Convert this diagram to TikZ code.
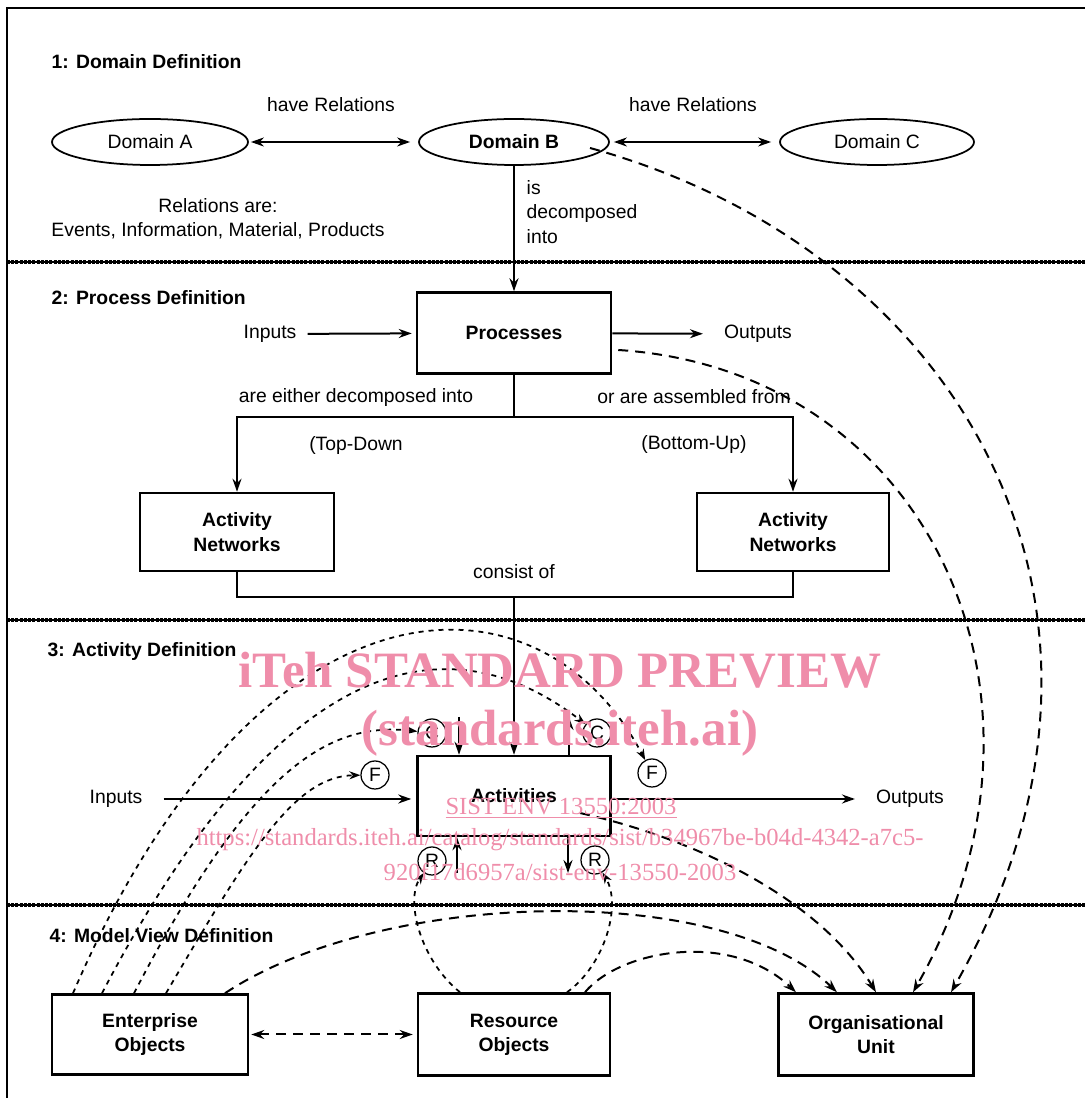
\documentclass[tikz,border=0pt]{standalone}
\usepackage{fontspec}
\setmainfont{Liberation Sans}
\newfontfamily\wmfont{Liberation Serif}
\usepackage{xcolor}
\usepackage{tikz}
\usetikzlibrary{arrows.meta}
\usetikzlibrary{shapes.geometric}
\definecolor{wmpink}{RGB}{239,141,170}

\begin{document}
\begin{tikzpicture}[
    font=\fontsize{11}{13.8}\selectfont,
    box/.style={draw, line width=0.05cm, minimum width=3.88cm, minimum height=1.6cm, align=center, font=\fontsize{11}{13.8}\selectfont\bfseries},
    domnode/.style={draw, ellipse, line width=0.035cm, minimum width=3.88cm, minimum height=0.92cm},
    icom/.style={draw, circle, line width=0.025cm, minimum size=0.56cm, inner sep=0pt},
    head/.style={anchor=west, font=\fontsize{11}{13.8}\selectfont\bfseries},
    arr/.style={line width=0.04cm, -{Stealth[length=0.26cm, width=0.18cm]}},
    twoarr/.style={line width=0.04cm, {Stealth[length=0.26cm, width=0.18cm]}-{Stealth[length=0.26cm, width=0.18cm]}},
    dasharr/.style={line width=0.04cm, dash pattern=on 0.2cm off 0.14cm, -{Stealth[length=0.26cm, width=0.18cm]}},
    twodash/.style={line width=0.04cm, dash pattern=on 0.2cm off 0.14cm, {Stealth[length=0.26cm, width=0.18cm]}-{Stealth[length=0.26cm, width=0.18cm]}},
    dotarr/.style={line width=0.035cm, dash pattern=on 0.1cm off 0.1cm, -{Stealth[length=0.22cm, width=0.16cm]}},
    sepline/.style={line width=0.08cm, dash pattern=on 0.06cm off 0.025cm},
    sepbase/.style={line width=0.025cm},
    wm/.style={text=wmpink, inner sep=0pt},
]
            \useasboundingbox (0,0) rectangle (21.700000,21.960000);

            % Frame and section separators
            \draw [line width=0.04cm] (0.140000,0.000000) -- (0.140000,21.800000) -- (21.700000,21.800000);%
            \foreach \ysep in {16.720000, 9.560000, 3.860000} {
                \draw [sepbase] (0.140000,\ysep) -- (21.700000,\ysep);%
                \draw [sepline] (0.140000,\ysep) -- (21.700000,\ysep);%
            }

            % Section 1: domains
            \node [head] (hDomain) at (0.910000,20.720000) {1: Domain Definition};%
            \node [domnode, minimum width=3.92cm] (domA) at (3.000000,19.120000) {Domain A};%
            \node [domnode, minimum width=3.80cm, font=\fontsize{11}{13.8}\selectfont\bfseries] (domB) at (10.280000,19.120000) {Domain B};%
            \node [domnode] (domC) at (17.540000,19.120000) {Domain C};%
            \node (relAB) at (6.620000,19.860000) {have Relations};%
            \node (relBC) at (13.860000,19.860000) {have Relations};%
            \node [align=center] (relList) at (4.360000,17.580000) {Relations are:\\Events, Information, Material, Products};%
            \node [anchor=west, align=left] (decomp) at (10.410000,17.720000) {is\\decomposed\\into};%

            % Section 2: processes
            \node [head] (hProcess) at (0.910000,16.000000) {2: Process Definition};%
            \node [box, minimum height=1.62cm] (proc) at (10.280000,15.300000) {Processes};%
            \node (inP) at (5.400000,15.280000) {Inputs};%
            \node (outP) at (15.160000,15.280000) {Outputs};%
            \node (either) at (7.120000,14.000000) {are either decomposed into};%
            \node (orAsm) at (13.880000,14.020000) {or are assembled from};%
            \node (topDown) at (7.120000,13.040000) {(Top-Down};%
            \node (bottomUp) at (13.880000,13.060000) {(Bottom-Up)};%
            \node [box, minimum height=1.56cm] (netL) at (4.740000,11.320000) {Activity\\Networks};%
            \node [box, minimum width=3.84cm, minimum height=1.56cm] (netR) at (15.860000,11.320000) {Activity\\Networks};%
            \node (consist) at (10.280000,10.520000) {consist of};%
            \coordinate (split) at (10.280000,13.620000);%
            \coordinate (join) at (10.280000,10.020000);%

            % Section 3: activities
            \node [head] (hActivity) at (0.830000,8.920000) {3: Activity Definition};%
            \node [box, minimum width=3.86cm] (act) at (10.280000,6.040000) {Activities};%
            \node (inA) at (2.320000,5.980000) {Inputs};%
            \node (outA) at (18.200000,5.980000) {Outputs};%
            \node [icom] (c1) at (8.640000,7.300000) {C};%
            \node [icom] (c2) at (11.940000,7.300000) {C};%
            \node [icom] (f1) at (7.500000,6.460000) {F};%
            \node [icom] (f2) at (13.040000,6.500000) {F};%
            \node [icom] (r1) at (8.640000,4.740000) {R};%
            \node [icom] (r2) at (11.900000,4.760000) {R};%
            \coordinate (ctlIn) at (9.180000,7.620000);%
            \coordinate (ctlOut) at (11.380000,7.620000);%
            \coordinate (resIn) at (9.140000,4.500000);%
            \coordinate (resOut) at (11.360000,4.500000);%

            % Section 4: model views
            \node [head] (hModel) at (0.870000,3.240000) {4: Model View Definition};%
            \node [box, minimum width=3.92cm] (ent) at (3.000000,1.270000) {Enterprise\\Objects};%
            \node [box, minimum width=3.84cm, minimum height=1.64cm] (res) at (10.280000,1.270000) {Resource\\Objects};%
            \node [box, minimum width=3.90cm, minimum height=1.64cm] (org) at (17.520000,1.270000) {Organisational\\Unit};%

            % Drawing solid connectors
            \draw [twoarr, shorten <=0.04cm, shorten >=0.16cm] (domA) -- (domB);%
            \draw [twoarr, shorten <=0.08cm, shorten >=0.16cm] (domB) -- (domC);%
            \draw [arr] (domB) -- (proc);%
            \draw [arr, shorten <=0.1cm, shorten >=0.08cm] (inP) -- (proc);%
            \draw [arr, shorten >=0.3cm] (proc) -- (outP);%
            \draw [line width=0.04cm] (proc) -- (split);%
            \draw [arr] (split) -| (netL);%
            \draw [arr] (split) -| (netR);%
            \draw [line width=0.04cm] (netL) |- (join) -| (netR);%
            \draw [arr] (join) -- (act);%
            \draw [arr, shorten <=0.3cm, shorten >=0.1cm] (inA) -- (inA -| act.west);%
            \draw [arr, shorten >=0.3cm] (act.east |- outA) -- (outA);%
            \draw [arr] (ctlIn) -- (ctlIn |- act.north);%
            \draw [arr] (ctlOut |- act.north) -- (ctlOut);%
            \draw [arr] (resIn) -- (resIn |- act.south);%
            \draw [arr] (resOut |- act.south) -- (resOut);%
            \draw [twodash, shorten <=0.04cm, shorten >=0.08cm] (ent) -- (res);%

            % Drawing enterprise objects to C and F marks
            \draw [dotarr] ([xshift=-1.54cm]ent.north) .. controls (5.200000,10.760000) and (10.800000,10.760000) .. (f2);%
            \draw [dotarr] ([xshift=-0.96cm]ent.north) .. controls (5.480000,8.680000) and (8.800000,9.720000) .. (c2);%
            \draw [dotarr] ([xshift=-0.32cm]ent.north) .. controls (5.080000,6.720000) and (6.640000,7.520000) .. (c1);%
            \draw [dotarr] ([xshift=0.32cm]ent.north) .. controls (5.000000,4.960000) and (5.900000,6.440000) .. (f1);%

            % Drawing resource objects to R marks
            \draw [dotarr] ([xshift=-1.08cm]res.north) .. controls (8.400000,2.760000) and (8.100000,3.960000) .. (r1);%
            \draw [dotarr] ([xshift=1.06cm]res.north) .. controls (12.100000,2.660000) and (12.440000,3.860000) .. (r2);%

            % Drawing links to the organisational unit
            \draw [dasharr] ([xshift=1.52cm,yshift=-0.12cm]domB.center) .. controls (19.200000,16.960000) and (23.400000,9.760000) .. ([xshift=1.50cm]org.north);%
            \draw [dasharr] ([xshift=0.12cm,yshift=-0.34cm]proc.east) .. controls (18.600000,14.560000) and (21.600000,7.960000) .. ([xshift=0.74cm]org.north);%
            \draw [dasharr] ([xshift=1.32cm,yshift=-0.34cm]act.center) .. controls (14.000000,5.160000) and (16.400000,3.960000) .. (org.north);%
            \draw [dasharr] ([xshift=1.50cm]ent.north) .. controls (7.600000,4.160000) and (14.400000,4.360000) .. ([xshift=-0.78cm]org.north);%
            \draw [dasharr] ([xshift=1.42cm]res.north) .. controls (12.400000,2.960000) and (14.600000,3.360000) .. ([xshift=-1.60cm]org.north);%

            % Watermark
            \node [wm, font=\wmfont\fontsize{29}{32}\selectfont\bfseries] (wmTitle) at (11.200000,8.560000) {iTeh STANDARD PREVIEW};%
            \node [wm, font=\wmfont\fontsize{29}{32}\selectfont\bfseries] (wmSite) at (11.200000,7.300000) {(standards.iteh.ai)};%
            \node [wm, font=\wmfont\fontsize{14}{16}\selectfont] (wmCode) at (11.220000,5.800000) {\underline{SIST ENV 13550:2003}};%
            \node [wm, font=\wmfont\fontsize{14}{16}\selectfont] (wmUrlA) at (11.200000,5.160000) {https://standards.iteh.ai/catalog/standards/sist/b34967be-b04d-4342-a7c5-};%
            \node [wm, font=\wmfont\fontsize{14}{16}\selectfont] (wmUrlB) at (11.200000,4.520000) {920f17d6957a/sist-env-13550-2003};%
\end{tikzpicture}
\end{document}
